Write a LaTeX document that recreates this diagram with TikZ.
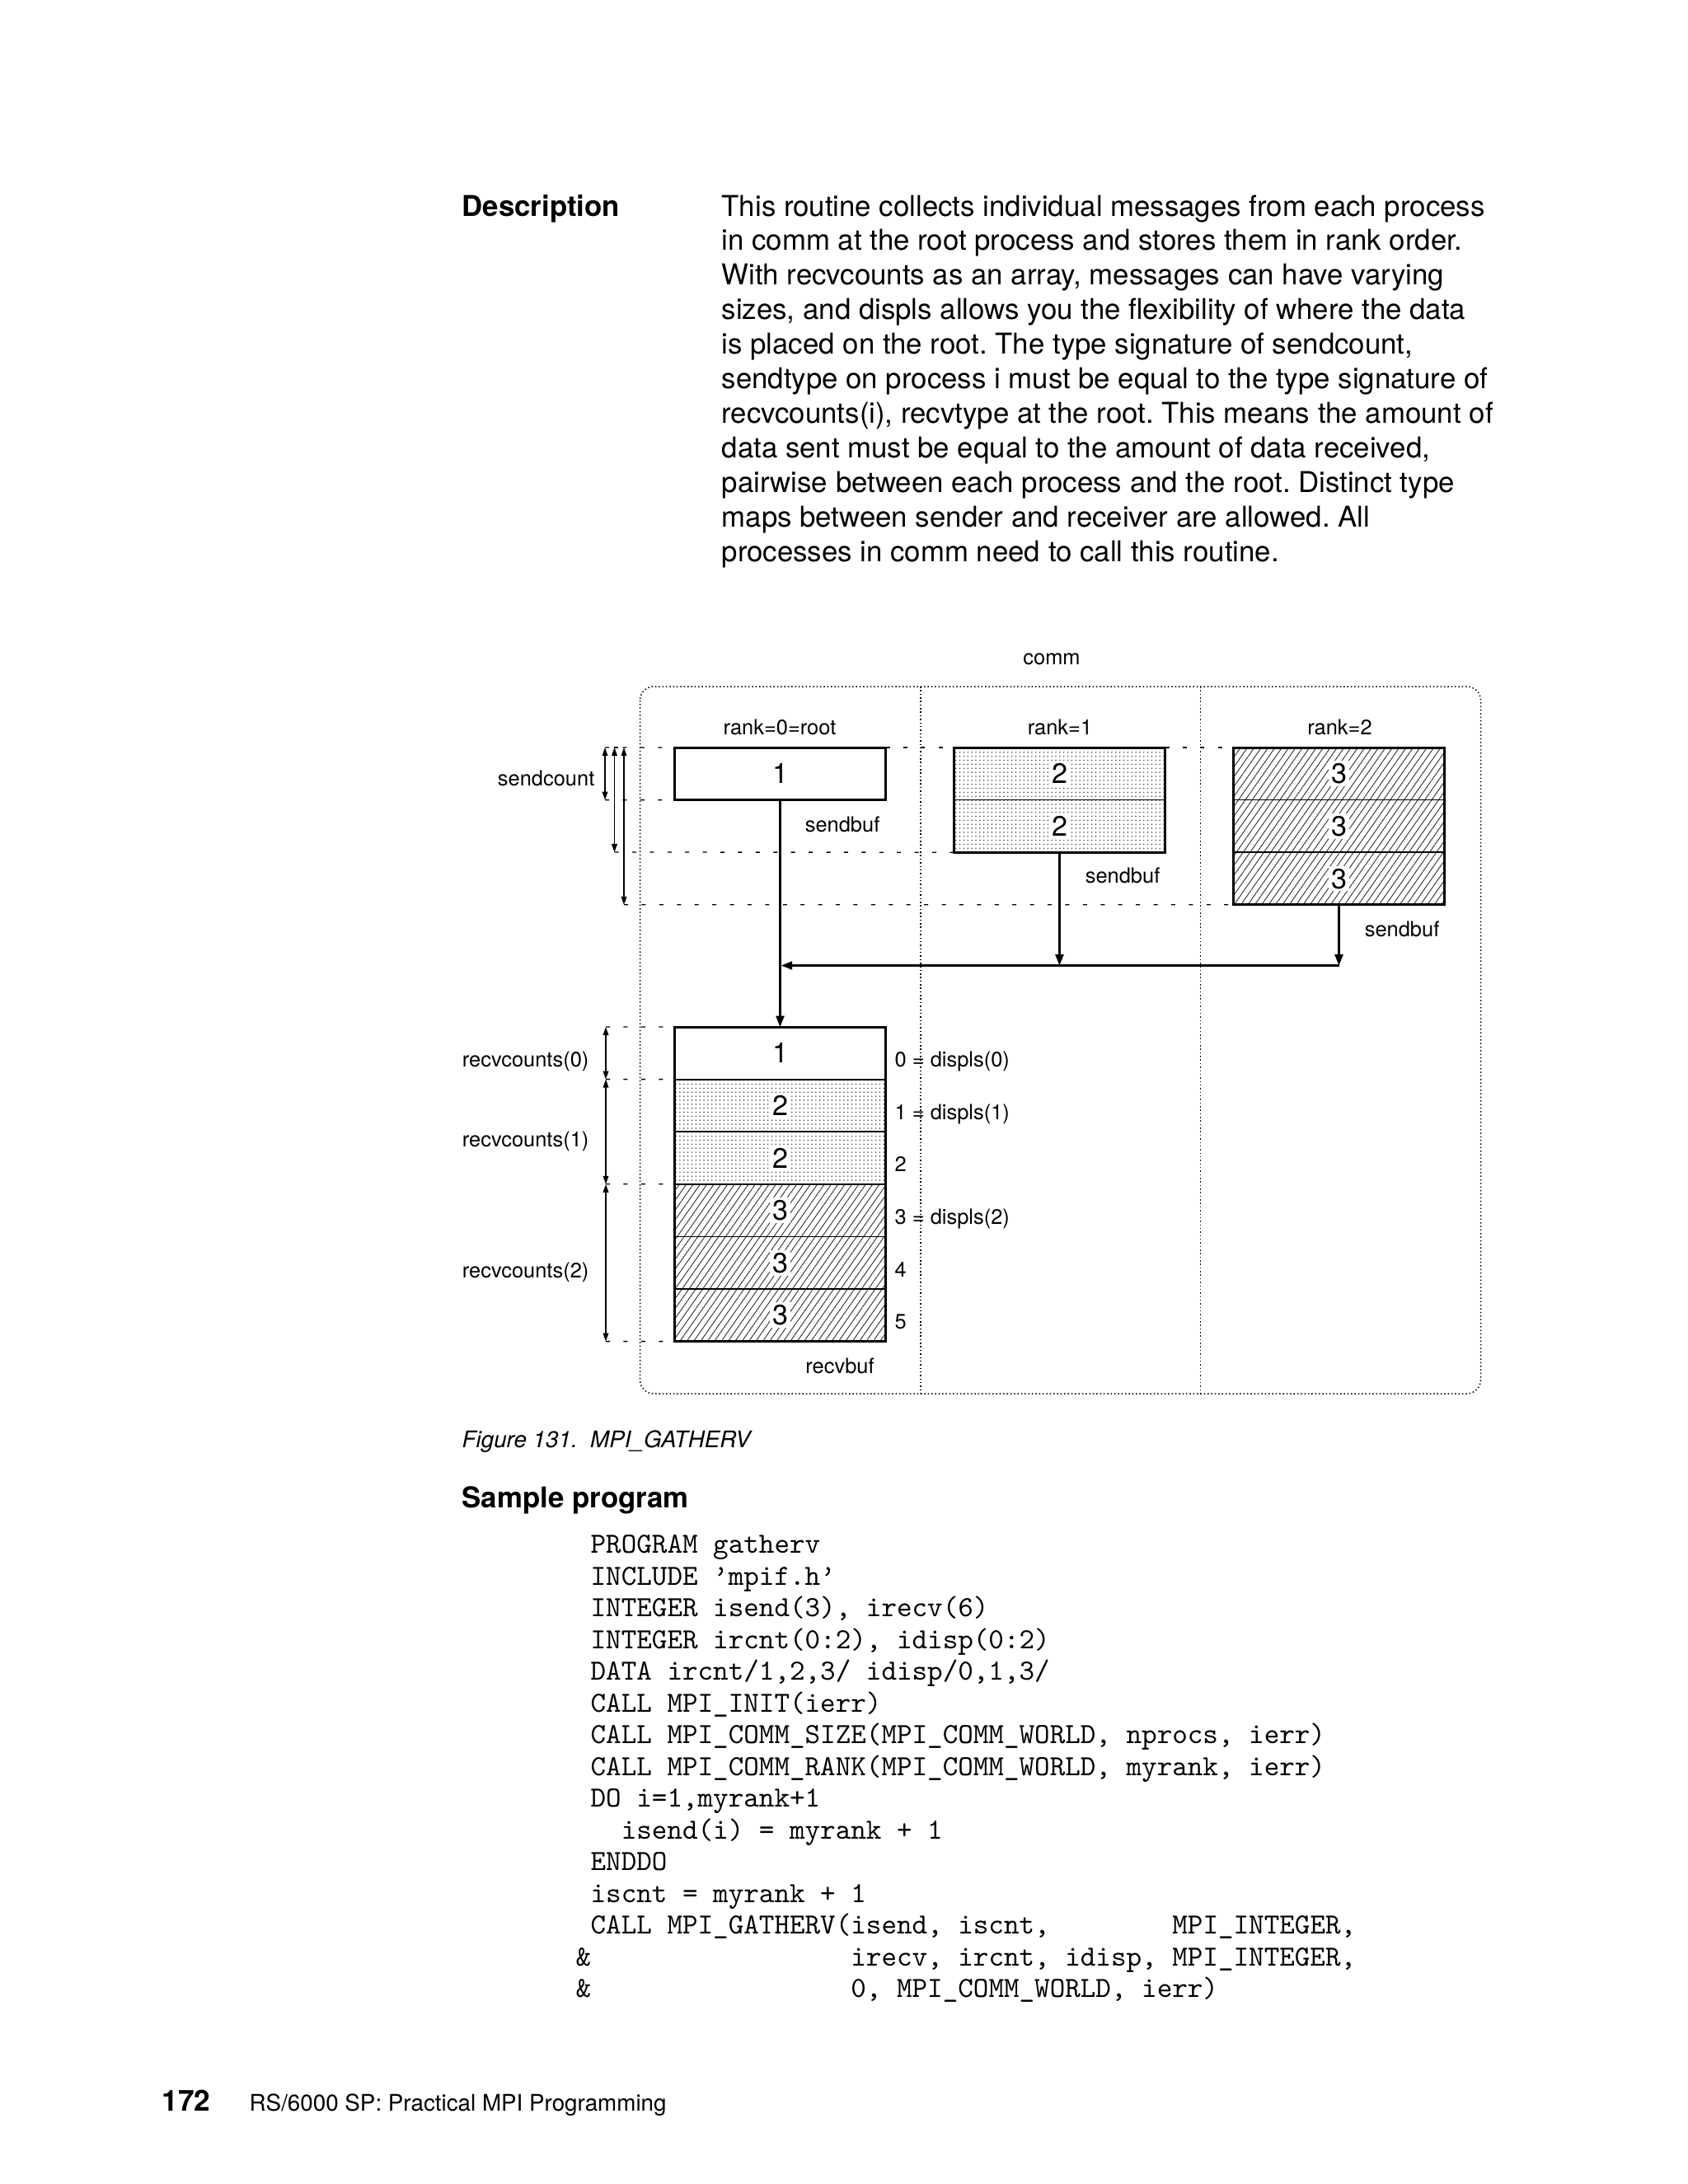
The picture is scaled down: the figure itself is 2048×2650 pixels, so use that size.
\documentclass[tikz,border=0pt]{standalone}
\usepackage{fontspec}
\setmainfont{TeX Gyre Heros}
\usetikzlibrary{patterns.meta,arrows.meta}
\frenchspacing
\begin{document}
\begin{tikzpicture}[x=0.29883pt, y=-0.29883pt,
 ptext/.style={anchor=base west, inner sep=0pt, font=\fontsize{10.4}{12}\selectfont},
 lab/.style={inner sep=0pt, font=\fontsize{7.6}{9}\selectfont, text height=0.72em, text depth=0pt},
 cell/.style={draw, line width=0.5pt, minimum width=76.5pt, minimum height=19pt, inner sep=0pt, outer sep=0pt},
 dotfill/.style={pattern={Dots[distance=1.45pt, radius=0.25pt]}, pattern color=black!75},
 hatchfill/.style={pattern={Lines[angle=55, distance=2.05pt, line width=0.28pt]}, pattern color=black!80},
 num/.style={fill=white, inner sep=1pt, font=\fontsize{10.2}{12}\selectfont, text height=0.72em, text depth=0pt},
 outline/.style={line width=0.9pt},
 guide/.style={line width=0.4pt, dash pattern=on 1.5pt off 4.9pt},
 framel/.style={line width=0.45pt, dash pattern=on 0.45pt off 0.85pt},
 dimarr/.style={line width=0.4pt, {Triangle[length=3pt,width=2pt]}-{Triangle[length=3pt,width=2pt]}},
 flow/.style={line width=0.65pt, -{Triangle[length=4pt,width=3pt]}},
 code/.style={anchor=base west, inner sep=0pt, font=\ttfamily\fontsize{10.57}{12}\selectfont},
]
\useasboundingbox (0,0) rectangle (2048,2650);

% ---------- description ----------
\node[ptext, font=\bfseries\fontsize{10.4}{12}\selectfont] (desc) at (560,262) {Description};
\node[ptext] (p1) at (875,262.0) {This routine collects individual messages from each process};
\node[ptext] (p2) at (875,303.9) {in comm at the root process and stores them in rank order.};
\node[ptext] (p3) at (875,345.8) {With recvcounts as an array, messages can have varying};
\node[ptext] (p4) at (875,387.7) {sizes, and displs allows you the flexibility of where the data};
\node[ptext] (p5) at (875,429.6) {is placed on the root. The type signature of sendcount,};
\node[ptext] (p6) at (875,471.5) {sendtype on process i must be equal to the type signature of};
\node[ptext] (p7) at (875,513.4) {recvcounts(i), recvtype at the root. This means the amount of};
\node[ptext] (p8) at (875,555.3) {data sent must be equal to the amount of data received,};
\node[ptext] (p9) at (875,597.2) {pairwise between each process and the root. Distinct type};
\node[ptext] (p10) at (875,639.1) {maps between sender and receiver are allowed. All};
\node[ptext] (p11) at (875,681.0) {processes in comm need to call this routine.};

% ---------- frame ----------
\draw[framel, rounded corners=5pt] (776.5,833) rectangle (1796.5,1691);
\draw[framel] (1117,833) -- (1117,1691);
\draw[framel] (1456.5,833) -- (1456.5,1691);
\node[lab] (comm) at (1276,794) {comm};
\node[lab] (rk0) at (946,879) {rank=0=root};
\node[lab] (rk1) at (1286,879) {rank=1};
\node[lab] (rk2) at (1625.5,879) {rank=2};

% ---------- send cells ----------
\node[cell] (s0) at (946.5,938.8) {};
\node[cell, dotfill] (s1a) at (1285.5,938.8) {};
\node[cell, dotfill] (s1b) at (1285.5,1002.4) {};
\node[cell, hatchfill] (s2a) at (1624.5,938.8) {};
\node[cell, hatchfill] (s2b) at (1624.5,1002.4) {};
\node[cell, hatchfill] (s2c) at (1624.5,1066.0) {};

% guides (send)
\draw[guide] (734,907) -- (s0.north west);
\draw[guide] (s0.north east) -- (s1a.north west);
\draw[guide] (s1a.north east) -- (s2a.north west);
\draw[line width=0.4pt] (744.5,907) -- (749.5,907);
\draw[guide] (734,970.6) -- (s0.south west);
\draw[guide] (745.5,1034) -- (s1b.south west);
\draw[guide] (757,1097.8) -- (s2c.south west);

\draw[outline] (s0.north west) rectangle (s0.south east);
\draw[outline] (s1a.north west) rectangle (s1b.south east);
\draw[outline] (s2a.north west) rectangle (s2c.south east);

\node[num] (n0) at (s0) {1};
\node[num] (n1a) at (s1a) {2};
\node[num] (n1b) at (s1b) {2};
\node[num] (n2a) at (s2a) {3};
\node[num] (n2b) at (s2b) {3};
\node[num] (n2c) at (s2c) {3};

\node[lab, anchor=east] (sb0) at (1068,997) {sendbuf};
\node[lab, anchor=east] (sb1) at (1408,1059.5) {sendbuf};
\node[lab, anchor=east] (sb2) at (1747,1124) {sendbuf};

% dimension arrows (send)
\coordinate (da0) at (734,907);
\coordinate (db0) at (734,970.6);
\coordinate (da1) at (745.5,907);
\coordinate (db1) at (745.5,1034);
\coordinate (da2) at (757,907);
\coordinate (db2) at (757,1097.8);
\draw[dimarr] (da0) -- (db0);
\draw[dimarr] (da1) -- (db1);
\draw[dimarr] (da2) -- (db2);
\node[lab, anchor=east] (sc) at (722,941) {sendcount};

% ---------- recv cells ----------
\node[cell] (r0) at (946.5,1277.8) {};
\node[cell, dotfill] (r1) at (946.5,1341.4) {};
\node[cell, dotfill] (r2) at (946.5,1405.0) {};
\node[cell, hatchfill] (r3) at (946.5,1468.6) {};
\node[cell, hatchfill] (r4) at (946.5,1532.2) {};
\node[cell, hatchfill] (r5) at (946.5,1595.8) {};

\draw[guide] (735,1246) -- (r0.north west);
\draw[guide] (735,1309.6) -- (r0.south west);
\draw[guide] (735,1436.8) -- (r2.south west);
\draw[guide] (735,1627.6) -- (r5.south west);

\draw[outline] (r0.north west) rectangle (r5.south east);
\draw[line width=0.65pt] (r0.south west) -- (r0.south east);
\draw[line width=0.65pt] (r2.south west) -- (r2.south east);

\node[num] (m0) at (r0) {1};
\node[num] (m1) at (r1) {2};
\node[num] (m2) at (r2) {2};
\node[num] (m3) at (r3) {3};
\node[num] (m4) at (r4) {3};
\node[num] (m5) at (r5) {3};

\node[lab, anchor=west] (d0) at (1085,1282.6) {0 = displs(0)};
\node[lab, anchor=west] (d1) at (1085,1346.8) {1 = displs(1)};
\node[lab, anchor=west] (d2) at (1085,1409.0) {2};
\node[lab, anchor=west] (d3) at (1085,1473.5) {3 = displs(2)};
\node[lab, anchor=west] (d4) at (1085,1537.7) {4};
\node[lab, anchor=west] (d5) at (1085,1600.2) {5};
\node[lab] (rb) at (1019,1654) {recvbuf};

\coordinate (ra0) at (735,1246);
\coordinate (ra1) at (735,1309.6);
\coordinate (ra2) at (735,1436.8);
\coordinate (ra3) at (735,1627.6);
\draw[dimarr] (ra0) -- (ra1);
\draw[dimarr] (ra1) -- (ra2);
\draw[dimarr] (ra2) -- (ra3);
\node[lab, anchor=east] (rc0) at (715,1282.6) {recvcounts(0)};
\node[lab, anchor=east] (rc1) at (715,1379) {recvcounts(1)};
\node[lab, anchor=east] (rc2) at (715,1538) {recvcounts(2)};

% ---------- flow arrows ----------
\coordinate (j0) at (946.5,1171.5);
\coordinate (j1) at (1285.5,1171.5);
\coordinate (j2) at (1624.5,1171.5);
\draw[flow] (s0.south) -- (r0.north);
\draw[flow] (s1b.south) -- (j1);
\draw[flow] (s2c.south) -- (j2);
\draw[flow, shorten >=0.4pt] (j2) -- (j0);

% ---------- caption & program ----------
\node[ptext, font=\itshape\fontsize{8.3}{10}\selectfont] (cap) at (560,1756) {Figure 131.\ \ MPI\_GATHERV};
\node[ptext, font=\bfseries\fontsize{10.4}{12}\selectfont] (sp) at (560,1829) {Sample program};

\node[code] (c1) at (716,1884.5) {PROGRAM gatherv};
\node[code] (c2) at (716,1923.0) {INCLUDE ’mpif.h’};
\node[code] (c3) at (716,1961.5) {INTEGER isend(3), irecv(6)};
\node[code] (c4) at (716,2000.0) {INTEGER ircnt(0:2), idisp(0:2)};
\node[code] (c5) at (716,2038.5) {DATA ircnt/1,2,3/ idisp/0,1,3/};
\node[code] (c6) at (716,2077.0) {CALL MPI\_INIT(ierr)};
\node[code] (c7) at (716,2115.5) {CALL MPI\_COMM\_SIZE(MPI\_COMM\_WORLD, nprocs, ierr)};
\node[code] (c8) at (716,2154.0) {CALL MPI\_COMM\_RANK(MPI\_COMM\_WORLD, myrank, ierr)};
\node[code] (c9) at (716,2192.5) {DO i=1,myrank+1};
\node[code] (c10) at (753.1,2231.0) {isend(i) = myrank + 1};
\node[code] (c11) at (716,2269.5) {ENDDO};
\node[code] (c12) at (716,2308.0) {iscnt = myrank + 1};
\node[code] (c13) at (716,2346.5) {CALL MPI\_GATHERV(isend, iscnt,};
\node[code] (c13b) at (1421.7,2346.5) {MPI\_INTEGER,};
\node[code] (c14a) at (698,2385.0) {\&};
\node[code] (c14) at (1031.7,2385.0) {irecv, ircnt, idisp, MPI\_INTEGER,};
\node[code] (c15a) at (698,2423.5) {\&};
\node[code] (c15) at (1031.7,2423.5) {0, MPI\_COMM\_WORLD, ierr)};

% ---------- footer ----------
\node[ptext, font=\bfseries\fontsize{10.5}{12}\selectfont] (pg) at (196,2561) {172};
\node[ptext, font=\fontsize{8.3}{10}\selectfont] (ft) at (302,2561) {RS/6000 SP: Practical MPI Programming};
\end{tikzpicture}
\end{document}
